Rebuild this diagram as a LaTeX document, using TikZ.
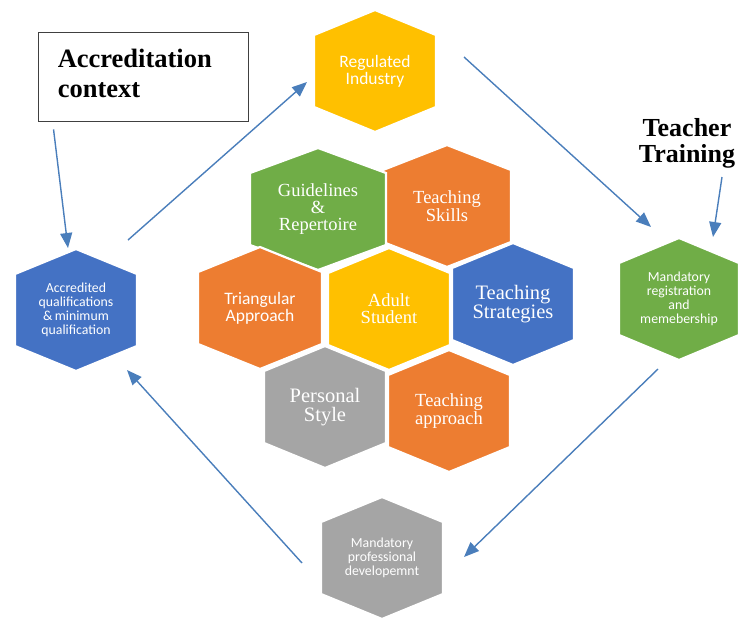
\documentclass[tikz,border=0pt]{standalone}
\usepackage{fontspec}
\setmainfont{Liberation Serif}[BoldFont={Liberation Serif Bold}]
\newfontfamily\calib{Carlito}
\newfontfamily\timesbold{Liberation Serif Bold}
\usetikzlibrary{arrows.meta,calc}
\definecolor{hOrange}{HTML}{ED7D31}
\definecolor{hGreen}{HTML}{70AD47}
\definecolor{hBlue}{HTML}{4472C4}
\definecolor{hYellow}{HTML}{FFC000}
\definecolor{hGray}{HTML}{A5A5A5}
\definecolor{arrowblue}{HTML}{4A7EBB}
\tikzset{
  hexfill/.style={draw=white, line width=2.2pt, line join=miter},
  hexlabel/.style={text=white, align=center, inner sep=0pt},
  arr/.style={draw=arrowblue, line width=1.4pt, -{Triangle[length=15pt,width=12pt]}},
  sansL/.style={font=\calib\fontsize{17.5}{16.8}\selectfont},
  sansS/.style={font=\calib\fontsize{13.8}{13.8}\selectfont},
  serifM/.style={font=\fontsize{18.5}{16.8}\selectfont},
  serifL/.style={font=\fontsize{20.5}{18.8}\selectfont},
  titlebox/.style={draw=black!75, line width=0.9pt, minimum width=210pt, minimum height=89pt, inner sep=0pt},
  titletext/.style={font=\timesbold\fontsize{26.5}{30}\selectfont, align=left, text width=190pt, inner sep=0pt},
}
% name, x, y, half width, colour, label style, text
\newcommand\hexnode[7]{%
  \filldraw[hexfill, fill=#5] ({#2},{#3-61}) -- ({#2+#4},{#3-36}) -- ({#2+#4},{#3+36})
    -- ({#2},{#3+61}) -- ({#2-#4},{#3+36}) -- ({#2-#4},{#3-36}) -- cycle;
  \node[hexlabel, #6] (#1) at (#2,#3) {#7};}
\begin{document}
\begin{tikzpicture}[x=1pt,y=-1pt]
\useasboundingbox (0,0) rectangle (738,619);
% outer cycle
\hexnode{reg}{375}{71}{61}{hYellow}{sansL}{Regulated\\Industry}
\hexnode{acc}{76}{310}{61}{hBlue}{sansS}{Accredited\\qualifications\\\&\,minimum\\qualification}
\hexnode{mreg}{679}{299}{60}{hGreen}{sansS}{Mandatory\\registration\\and\\memebership}
\hexnode{mpd}{382}{558}{61}{hGray}{sansS}{Mandatory\\professional\\developemnt}
% central cluster
\hexnode{skills}{447}{206}{64}{hOrange}{serifM}{Teaching\\Skills}
\hexnode{guide}{318}{209}{68}{hGreen}{serifM}{Guidelines\\\&\\Repertoire}
\hexnode{tri}{260}{308}{62}{hOrange}{sansL}{Triangular\\Approach}
\hexnode{strat}{513}{304}{61}{hBlue}{serifL}{Teaching\\Strategies}
\hexnode{approach}{449}{411}{61}{hOrange}{serifM}{Teaching\\approach}
\hexnode{style}{325}{407}{61}{hGray}{serifL}{Personal\\Style}
\hexnode{adult}{389}{309}{61}{hYellow}{serifM}{Adult\\Student}
% labels
\node[titlebox] (box) at (143,76.5) {};
\node[titletext, anchor=west] (boxtext) at ($(box.west)+(20,-3)$) {Accreditation\\context};
\node[font=\timesbold\fontsize{26}{26}\selectfont, align=center, inner sep=0pt] (teach) at (687,143) {Teacher\\Training};
% arrows
\draw[arr] ($(box.south west)+(16,8)$) -- ($(acc.center)+(-8,-62)$);
\draw[arr] ($(acc.center)+(52,-70)$) -- ($(reg.center)+(-68,11)$);
\draw[arr] ($(reg.center)+(89,-14)$) -- ($(mreg.center)+(-28,-72)$);
\draw[arr] ($(teach.center)+(35,34)$) -- ($(mreg.center)+(34,-62)$);
\draw[arr] ($(mreg.center)+(-21,70)$) -- ($(mpd.center)+(82,-1)$);
\draw[arr] ($(mpd.center)+(-80,5)$) -- ($(acc.center)+(51,60)$);
\end{tikzpicture}
\end{document}
